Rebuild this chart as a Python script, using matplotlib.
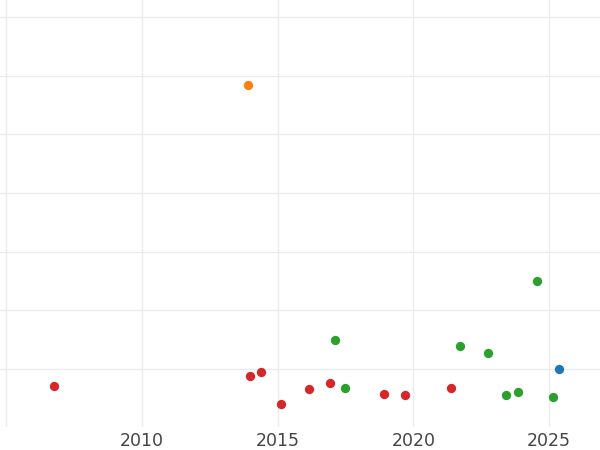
import numpy as np
import matplotlib
matplotlib.use("Agg")
import matplotlib.pyplot as plt

# points per group (year, value)
red_x = [2006.76, 2013.99, 2014.39, 2015.12, 2016.14, 2016.92, 2018.91, 2019.70, 2021.40]
red_y = [-0.295, -0.114, -0.046, -0.602, -0.336, -0.244, -0.421, -0.443, -0.324]

orange_x = [2013.92]
orange_y = [4.835]

green_x = [2017.10, 2017.49, 2021.73, 2022.75, 2023.43, 2023.87, 2024.55, 2025.16]
green_y = [0.494, -0.319, 0.392, 0.273, -0.443, -0.397, 1.500, -0.482]

blue_x = [2025.36]
blue_y = [0.005]

x_ticks = [2005, 2010, 2015, 2020, 2025]
x_tick_labels = ["", "2010", "2015", "2020", "2025"]
y_ticks = [0, 1, 2, 3, 4, 5, 6]

fig = plt.figure(figsize=(6, 4.5), dpi=100)
ax = fig.add_axes([0, 0.0511, 1, 0.9489])

# グリッド
ax.set_axisbelow(True)
ax.grid(True, color="#ebebeb", linewidth=1.0)

ax.scatter(red_x, red_y, s=45, color="#d62728", linewidths=0, zorder=3)
ax.scatter(orange_x, orange_y, s=45, color="#ff7f0e", linewidths=0, zorder=3)
ax.scatter(green_x, green_y, s=45, color="#2ca02c", linewidths=0, zorder=3)
ax.scatter(blue_x, blue_y, s=45, color="#1f77b4", linewidths=0, zorder=3)

ax.set_xlim(2004.767, 2026.88)
ax.set_ylim(-0.99, 6.29)
ax.set_xticks(x_ticks)
ax.set_xticklabels(x_tick_labels)
ax.set_yticks(y_ticks)
ax.set_yticklabels([])
ax.tick_params(axis="both", length=0, pad=3.5, labelsize=12.5, labelcolor="#444444")

for s in ax.spines.values():
    s.set_visible(False)

fig.savefig("out.png", dpi=100)
